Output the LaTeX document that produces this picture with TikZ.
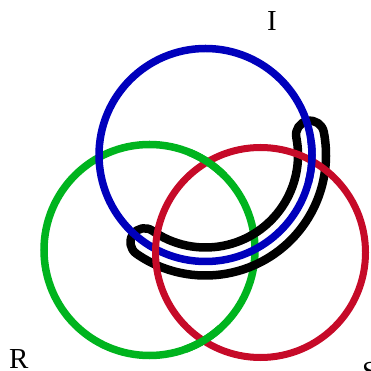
\documentclass[tikz,border=0pt]{standalone}
\usepackage{fontspec}
\setmainfont{Liberation Serif}
\usetikzlibrary{calc}
\definecolor{ringblue}{RGB}{0,0,188}
\definecolor{ringgreen}{RGB}{0,180,30}
\definecolor{ringred}{RGB}{198,10,40}
\begin{document}
\begin{tikzpicture}[x=1pt,y=1pt,
  ring/.style={line width=7.5pt},
  band/.style={line width=8.5pt, black, line join=round},
  lbl/.style={inner sep=0pt, font=\fontsize{29}{29}\selectfont}]
\useasboundingbox (0,0) rectangle (371,371);
\clip (0,0) rectangle (371,371);
\coordinate (B) at (205.5,216);
\coordinate (G) at (149.5,121);
\coordinate (Rc) at (260.5,118.5);
\draw[ring, ringgreen] (G) circle[radius=105.5];
\draw[band] ($(B)+(235:120.5)$) arc[start angle=235,end angle=371,radius=120.5]
  arc[start angle=11,end angle=191,radius=14]
  arc[start angle=371,end angle=235,radius=92.5]
  arc[start angle=55,end angle=235,radius=14] -- cycle;
\draw[ring, ringblue] (B) circle[radius=106.5];
\draw[ring, ringred, line width=7pt] (Rc) circle[radius=105];
\draw[ring, ringblue] ($(B)+(-15:106.5)$) arc[start angle=-15,end angle=8,radius=106.5];
\draw[ring, ringgreen] ($(G)+(45:105.5)$) arc[start angle=45,end angle=68,radius=105.5];
\draw[ring, ringgreen] ($(G)+(-70:105.5)$) arc[start angle=-70,end angle=-48,radius=105.5];
\node[lbl, anchor=base] (I) at (272,340) {I};
\node[lbl, anchor=base west] (R) at (9,2) {R};
\node[lbl, anchor=north west] (S) at (362,9) {S};
\end{tikzpicture}
\end{document}
